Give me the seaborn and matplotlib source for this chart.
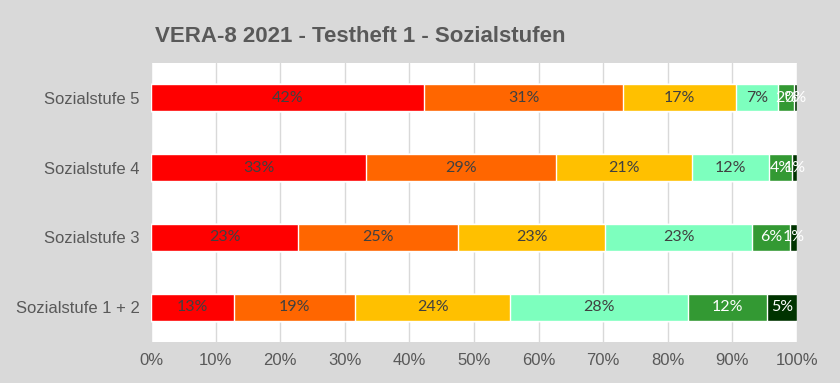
import numpy as np
import pandas as pd
import matplotlib
matplotlib.use("Agg")
import matplotlib.pyplot as plt
import seaborn as sns
from matplotlib.ticker import PercentFormatter

categories = ["Sozialstufe 5", "Sozialstufe 4", "Sozialstufe 3", "Sozialstufe 1 + 2"]
levels = ["L1", "L2", "L3", "L4", "L5", "L6"]
level_colors = ["#ff0000", "#ff6600", "#ffc000", "#7dffbe", "#339933", "#003300"]
label_colors = ["#404040", "#404040", "#404040", "#404040", "white", "white"]

# percentages per category, one list per level
l1 = [42.3, 33.3, 22.8, 12.8]
l2 = [30.8, 29.4, 24.7, 18.8]
l3 = [17.4, 21.1, 22.8, 24.0]
l4 = [6.6, 11.9, 22.7, 27.5]
l5 = [2.4, 3.6, 5.9, 12.3]
l6 = [0.5, 0.7, 1.1, 4.6]
series = [l1, l2, l3, l4, l5, l6]

sns.set_theme(style="white")
plt.rcParams["font.family"] = ["Liberation Sans", "DejaVu Sans"]

fig = plt.figure(figsize=(8.4, 3.83), dpi=100, facecolor="#d9d9d9")
ax = fig.add_axes([151 / 840, 1 - 342 / 383, 646 / 840, 279 / 383])
ax.set_facecolor("white")

df = pd.DataFrame(dict(zip(levels, series)), index=categories)
cum = df.cumsum(axis=1)

# draw cumulative bars from the longest to the shortest so they stack
for lev, col in reversed(list(zip(levels, level_colors))):
    sns.barplot(x=cum[lev].values, y=categories, color=col, orient="h",
                width=0.39, ax=ax, saturation=1, zorder=3)

for i, cat in enumerate(categories):
    left = 0
    for lev, tc in zip(levels, label_colors):
        v = df.loc[cat, lev]
        ax.text(left + v / 2, i, f"{round(v):.0f}%", ha="center", va="center",
                color=tc, fontsize=11.5, family=["Lato", "DejaVu Sans"], zorder=5)
        left += v

ax.set_xlim(0, 100)
ax.set_ylim(3.5, -0.5)
ax.set_xticks(np.arange(0, 101, 10))
ax.xaxis.set_major_formatter(PercentFormatter(decimals=0))
ax.grid(axis="x", color="#d9d9d9", linewidth=1, zorder=0)
ax.set_axisbelow(True)
for s in ax.spines.values():
    s.set_visible(False)
ax.tick_params(axis="both", length=0, labelsize=12, colors="#595959")
ax.tick_params(axis="x", pad=8)
ax.tick_params(axis="y", pad=8)
ax.set_xlabel("")
ax.set_ylabel("")

fig.text(155 / 840, 1 - 36 / 383, "VERA-8 2021 - Testheft 1 - Sozialstufen",
         fontsize=16, fontweight="bold", color="#595959", ha="left", va="center")

fig.savefig("out.png", dpi=100, facecolor=fig.get_facecolor())
